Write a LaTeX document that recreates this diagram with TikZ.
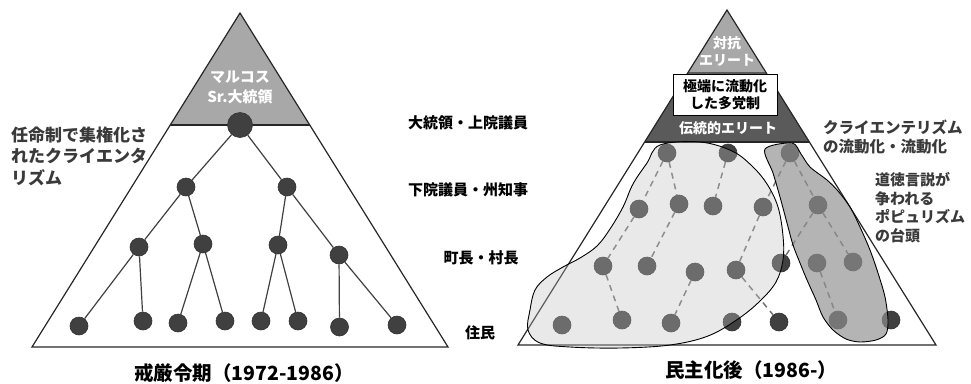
\documentclass[tikz,border=0pt]{standalone}
\usepackage{fontspec}
\setmainfont{Noto Sans CJK JP}
\usepackage{tikz}
\usetikzlibrary{shapes}
\definecolor{topgray}{HTML}{A8A8A8}
\definecolor{bandgray}{HTML}{5A5A5A}
\definecolor{dotgray}{HTML}{404040}
\definecolor{textgray}{HTML}{3A3A3A}
\tikzstyle{frame}=[line width=1.2pt,black!85]
\tikzstyle{topshaded}=[fill=topgray]
\tikzstyle{bandshaded}=[fill=bandgray]
\tikzstyle{dot}=[circle,fill=dotgray,draw=black!80,line width=.6pt,minimum size=18pt,inner sep=0pt]
\tikzstyle{tie}=[line width=1.2pt,black!75]
\tikzstyle{loosetie}=[line width=1.5pt,black!55,dash pattern=on 6pt off 5pt]
\tikzstyle{lightblob}=[fill=black!25,fill opacity=.35,draw=black,line width=.9pt]
\tikzstyle{darkblob}=[fill=black!43,fill opacity=.68,draw=black,line width=.9pt]
\tikzstyle{level}=[font=\fontsize{15}{18}\selectfont\bfseries]
\tikzstyle{note}=[align=left,anchor=west,inner sep=0pt,text=textgray]
\tikzstyle{intop}=[align=center,text=white,font=\fontsize{14}{17}\selectfont\bfseries]

\begin{document}
\begin{tikzpicture}[x=1pt,y=-1pt]
	\useasboundingbox (0,0) rectangle (971,383);
	% --- martial law period
	\fill[topshaded] (240,13) -- (170.3,125) -- (309.7,125) -- cycle;
	\draw[frame] (240,13) -- (32,347) -- (448,347) -- cycle;
	\draw[frame] (170.3,125) -- (309.7,125);
	\node[intop,font=\fontsize{15}{20}\selectfont\bfseries] (marcos) at (240,87) {マルコス\\Sr.大統領};
	\node[dot,minimum size=25pt] (m) at (240,125) {};
	\node[dot] (a1) at (186,187) {};
	\node[dot] (a2) at (287,187) {};
	\node[dot] (b1) at (139,247) {};
	\node[dot] (b2) at (203,244) {};
	\node[dot] (b3) at (278,245) {};
	\node[dot] (b4) at (339,255) {};
	\node[dot] (c1) at (79,326) {};
	\node[dot] (c2) at (143,321) {};
	\node[dot] (c3) at (178,323) {};
	\node[dot] (c4) at (225,321) {};
	\node[dot] (c5) at (261,321) {};
	\node[dot] (c6) at (298,321) {};
	\node[dot] (c7) at (339.5,327) {};
	\node[dot] (c8) at (397,325) {};
	\draw[tie] (m) -- (a1);
	\draw[tie] (m) -- (a2);
	\draw[tie] (a1) -- (b1);
	\draw[tie] (a1) -- (b2);
	\draw[tie] (a2) -- (b3);
	\draw[tie] (a2) -- (b4);
	\draw[tie] (b1) -- (c1);
	\draw[tie] (b1) -- (c2);
	\draw[tie] (b2) -- (c3);
	\draw[tie] (b2) -- (c4);
	\draw[tie] (b3) -- (c5);
	\draw[tie] (b3) -- (c6);
	\draw[tie] (b4) -- (c7);
	\draw[tie] (b4) -- (c8);
	\node[note,font=\fontsize{17}{21.5}\selectfont\bfseries] (centralized) at (11,156) {任命制で集権化さ\\れたクライエンタ\\リズム};
	\node[font=\fontsize{19.5}{22}\selectfont\bfseries] (martial) at (244,373) {戒厳令期（1972-1986）};
	% --- levels
	\node[level] (lv1) at (468,123) {大統領・上院議員};
	\node[level] (lv2) at (468,190) {下院議員・州知事};
	\node[level] (lv3) at (481,258) {町長・村長};
	\node[level] (lv4) at (480,333) {住民};
	% --- after democratization
	\fill[topshaded] (727,10) -- (688.3,72) -- (765.7,72) -- cycle;
	\fill[bandshaded] (688.3,72) -- (765.7,72) -- (809.4,142) -- (644.6,142) -- cycle;
	\draw[frame] (727,10) -- (518,345) -- (936,345) -- cycle;
	\draw[frame] (644.6,142) -- (809.4,142);
	\node[intop] (counter) at (727,51) {対抗\\エリート};
	\node[draw=black,line width=1pt,fill=white,minimum width=104pt,minimum height=41pt,inner sep=0pt,align=center,font=\fontsize{14}{17}\selectfont\bfseries] (multi) at (725,94.5) {極端に流動化\\した多党制};
	\node[intop] (trad) at (728,128) {伝統的エリート};
	\node[dot] (r11) at (667,153) {};
	\node[dot] (r12) at (728,153) {};
	\node[dot] (r13) at (790,153) {};
	\node[dot] (r21) at (639,209) {};
	\node[dot] (r22) at (679,204) {};
	\node[dot] (r23) at (713,206) {};
	\node[dot] (r24) at (763,207) {};
	\node[dot] (r25) at (818,205) {};
	\node[dot] (r31) at (603,266) {};
	\node[dot] (r32) at (647,266) {};
	\node[dot] (r33) at (695,272) {};
	\node[dot] (r34) at (736,270) {};
	\node[dot] (r35) at (781,263) {};
	\node[dot] (r36) at (817,263) {};
	\node[dot] (r37) at (853,262) {};
	\node[dot] (r41) at (562,325) {};
	\node[dot] (r42) at (622,320) {};
	\node[dot] (r43) at (671,323) {};
	\node[dot] (r44) at (732,322) {};
	\node[dot] (r45) at (779,322) {};
	\node[dot] (r46) at (838,320) {};
	\node[dot] (r47) at (891,320) {};
	\draw[loosetie] (r11) -- (r21);
	\draw[loosetie] (r11) -- (r22);
	\draw[loosetie] (r12) -- (r23);
	\draw[loosetie] (r13) -- (r24);
	\draw[loosetie] (r13) -- (r25);
	\draw[loosetie] (r21) -- (r31);
	\draw[loosetie] (r22) -- (r32);
	\draw[loosetie] (r24) -- (r34);
	\draw[loosetie] (r25) -- (r35);
	\draw[loosetie] (r25) -- (r37);
	\draw[loosetie] (r31) -- (r42);
	\draw[loosetie] (r33) -- (r43);
	\draw[loosetie] (r34) -- (r45);
	\draw[loosetie] (r36) -- (r46);
	% blobs
	\draw[lightblob] plot[smooth cycle,tension=.6] coordinates {(660,145) (700,142) (732,151) (752,166) (767,184) (778,207) (783,236) (783,260) (776,282) (760,301) (738,319) (708,336) (670,345) (620,348) (570,347) (540,343) (528,330) (530,310) (535,290) (547,277) (563,267) (580,258) (597,246) (610,229) (623,207) (633,184) (647,163)};
	\draw[darkblob] plot[smooth cycle,tension=.5] coordinates {(765,149) (792,143) (801,154) (810,167) (827,180) (838,191) (850,207) (860,227) (870,250) (878,273) (885,297) (888,320) (886,334) (876,340) (860,342) (846,339) (833,330) (823,317) (816,300) (807,280) (800,263) (793,245) (787,223) (780,197) (773,173)};
	\node[note,font=\fontsize{15.5}{19}\selectfont\bfseries] (fluid) at (823,137.5) {クライエンテリズム\\の流動化・流動化};
	\node[note,font=\fontsize{15}{18.5}\selectfont\bfseries] (populism) at (875,207.5) {道徳言説が\\争われる\\ポピュリズム\\の台頭};
	\node[font=\fontsize{19.5}{22}\selectfont\bfseries] (democ) at (751,370) {民主化後（1986-）};
\end{tikzpicture}
\end{document}
